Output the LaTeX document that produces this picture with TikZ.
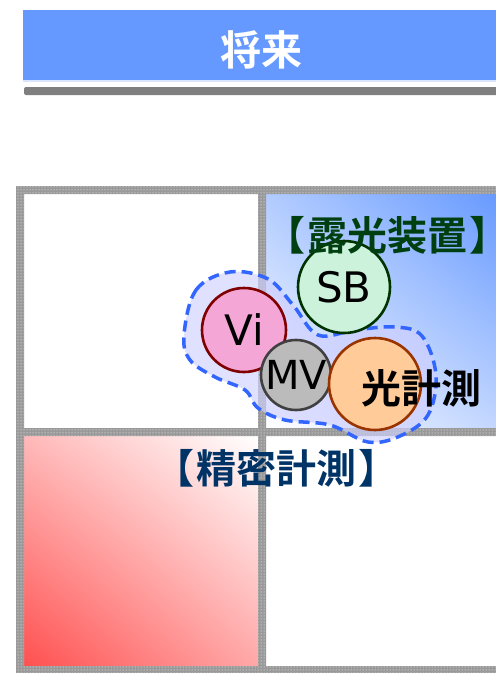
\documentclass[tikz,border=0pt]{standalone}
\usepackage{fontspec}
\newfontfamily\jp{Noto Sans CJK JP}[BoldFont={Noto Sans CJK JP Bold}]
\newfontfamily\lat{DejaVu Sans}
\usetikzlibrary{patterns,shadings}
\definecolor{hdrblue}{HTML}{6699FF}
\definecolor{shadowgray}{HTML}{7F7F7F}
\definecolor{gridgray}{HTML}{999999}
\definecolor{blobfill}{HTML}{CFCFFF}
\definecolor{blobline}{HTML}{3366FF}
\definecolor{vifill}{HTML}{F4A6D7}
\definecolor{viline}{HTML}{800000}
\definecolor{sbfill}{HTML}{CCF2DC}
\definecolor{sbline}{HTML}{003300}
\definecolor{mvfill}{HTML}{BBBBBB}
\definecolor{mvline}{HTML}{404040}
\definecolor{kofill}{HTML}{FFCC99}
\definecolor{koline}{HTML}{993300}
\definecolor{rogreen}{HTML}{004010}
\definecolor{seiblue}{HTML}{003366}
\definecolor{redc}{HTML}{FF5050}
\newcommand{\lbr}{【\hspace{2pt}}
\newcommand{\rbr}{\hspace{2pt}】}
\tikzset{
  bubble/.style={circle, line width=2.6pt, inner sep=0pt},
  latlab/.style={font=\lat\fontsize{42}{46}\selectfont},
  jplab/.style={font=\jp\bfseries\fontsize{40}{44}\selectfont, inner sep=0pt},
}
\begin{document}
\begin{tikzpicture}[x=1pt,y=-1pt]
\useasboundingbox (0,0) rectangle (496,673);
% header
\fill[shadowgray, rounded corners=2pt] (24,87) rectangle (500,95);
\fill[hdrblue] (23,10) rectangle (496,80);
\fill[hdrblue!25] (23,80) rectangle (496,81.5);
\node[font=\jp\bfseries\fontsize{41}{45}\selectfont, text=white, inner sep=0pt] (title) at (261,50) {将来};
% cells
\shade[lower left=white, upper right=hdrblue, upper left=hdrblue!50, lower right=hdrblue!40] (266,194) rectangle (500,428);
\shade[lower left=redc, upper right=white, upper left=redc!40, lower right=redc!50] (24,436) rectangle (258,666);
% grid border
\fill[gridgray, even odd rule] (16,186) rectangle (500,673)
  (24,194) rectangle (258,428) (266,194) rectangle (500,428)
  (24,436) rectangle (258,666) (266,436) rectangle (500,666);
\fill[pattern=dots, pattern color=white, even odd rule] (16,186) rectangle (500,673)
  (24,194) rectangle (258,428) (266,194) rectangle (500,428)
  (24,436) rectangle (258,666) (266,436) rectangle (500,666);
% blob
\draw[fill=blobfill, fill opacity=0.65, draw=blobline, line width=3.5pt, dash pattern=on 11pt off 6pt]
  plot[smooth cycle, tension=0.6] coordinates {(184,335) (196,290) (230,272) (268,279) (293,305) (318,335) (355,330) (395,327) (422,336) (436,375) (428,415) (400,436) (368,442) (330,425) (285,420) (258,408) (245,390) (215,377) (190,360)};
% circles
\node[bubble, draw=sbline, fill=sbfill, minimum size=92pt, latlab] (sb) at (344,287) {SB};
\node[bubble, draw=viline, fill=vifill, minimum size=84pt, latlab] (vi) at (244,330) {Vi};
\node[bubble, draw=mvline, fill=mvfill, minimum size=70pt, latlab, font=\lat\fontsize{40}{44}\selectfont] (mv) at (296,375) {MV};
\node[bubble, draw=koline, fill=kofill, minimum size=92pt] (ko) at (375,384) {};
\node[jplab, text=black] (kolab) at (421,388) {光計測};
% labels
\node[jplab, text=rogreen] (roko) at (387,235) {\lbr 露光装置\rbr};
\node[jplab, text=seiblue] (seimitsu) at (276,468) {\lbr 精密計測\rbr};
\end{tikzpicture}
\end{document}
